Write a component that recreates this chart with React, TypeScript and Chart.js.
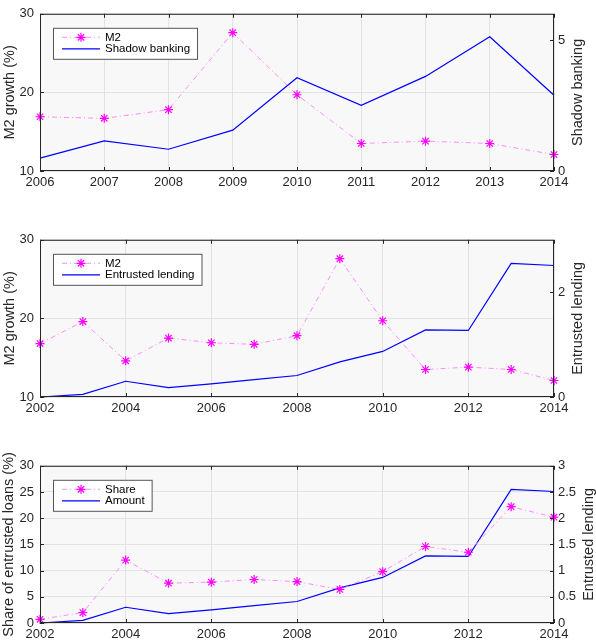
import { useEffect, useRef } from "react"
import { Chart, registerables } from "chart.js"

Chart.register(...registerables)

// data
const yearsLong = [2002, 2003, 2004, 2005, 2006, 2007, 2008, 2009, 2010, 2011, 2012, 2013, 2014]
const yearsShort = [2006, 2007, 2008, 2009, 2010, 2011, 2012, 2013, 2014]

const m2Growth = [16.8, 19.6, 14.6, 17.5, 16.9, 16.7, 17.8, 27.6, 19.7, 13.5, 13.8, 13.5, 12.1] // 2002-2014
const shadowBanking = [0.49, 1.15, 0.83, 1.56, 3.56, 2.51, 3.61, 5.12, 2.89] // 2006-2014
const entrustedLending = [0.0, 0.05, 0.3, 0.18, 0.25, 0.33, 0.41, 0.67, 0.87, 1.28, 1.27, 2.55, 2.51] // 2002-2014
const entrustedShare = [0.7, 2.0, 12.0, 7.6, 7.8, 8.3, 7.9, 6.4, 9.8, 14.6, 13.5, 22.2, 20.2] // 2002-2014

const FONT = "'Liberation Sans', Arial, sans-serif"
const TEXT = "#262626"
const MAGENTA = "#ff00ff"
const BLUE = "#0000ff"

interface AxisSpec {
  min: number
  max: number
  step: number
  title: string
  titleX: number
}

interface PanelProps {
  xs: number[]
  xStep: number
  leftData: number[]
  rightData: number[]
  leftLabel: string
  rightLabel: string
  left: AxisSpec
  right: AxisSpec
  top: number
}

function drawStar(ctx: CanvasRenderingContext2D, x: number, y: number, r: number) {
  ctx.beginPath()
  for (let k = 0; k < 4; k++) {
    const a = (k * Math.PI) / 4
    ctx.moveTo(x - r * Math.cos(a), y - r * Math.sin(a))
    ctx.lineTo(x + r * Math.cos(a), y + r * Math.sin(a))
  }
  ctx.stroke()
}

function Panel({ xs, xStep, leftData, rightData, leftLabel, rightLabel, left, right, top }: PanelProps) {
  const chartRef = useRef<HTMLCanvasElement>(null)
  const chartInstance = useRef<Chart | null>(null)

  useEffect(() => {
    if (!chartRef.current) return
    if (chartInstance.current) chartInstance.current.destroy()
    const ctx = chartRef.current.getContext("2d")
    if (!ctx) return

    const framePlugin = {
      id: "frame",
      beforeDraw(chart: Chart) {
        const { ctx, chartArea: a } = chart
        ctx.save()
        ctx.fillStyle = "#f8f8f8"
        ctx.fillRect(a.left, a.top, a.right - a.left, a.bottom - a.top)
        ctx.restore()
      },
      afterDraw(chart: Chart) {
        const { ctx, chartArea: a } = chart
        ctx.save()
        // box
        ctx.strokeStyle = TEXT
        ctx.lineWidth = 1
        ctx.strokeRect(a.left + 0.5, a.top + 0.5, a.right - a.left - 1, a.bottom - a.top - 1)

        // inward ticks
        const tl = 4
        ctx.beginPath()
        const sx = chart.scales.x
        sx.ticks.forEach((t) => {
          const px = Math.round(sx.getPixelForValue(t.value)) + 0.5
          ctx.moveTo(px, a.bottom)
          ctx.lineTo(px, a.bottom - tl)
          ctx.moveTo(px, a.top)
          ctx.lineTo(px, a.top + tl)
        })
        const sl = chart.scales.yL
        sl.ticks.forEach((t) => {
          const py = Math.round(sl.getPixelForValue(t.value)) + 0.5
          ctx.moveTo(a.left, py)
          ctx.lineTo(a.left + tl, py)
        })
        const sr = chart.scales.yR
        sr.ticks.forEach((t) => {
          const py = Math.round(sr.getPixelForValue(t.value)) + 0.5
          ctx.moveTo(a.right, py)
          ctx.lineTo(a.right - tl, py)
        })
        ctx.stroke()

        // axis titles, both read bottom to top
        ctx.fillStyle = TEXT
        ctx.font = `14.5px ${FONT}`
        ctx.textAlign = "center"
        ctx.textBaseline = "middle"
        const cy = (a.top + a.bottom) / 2
        for (const [tx, text] of [
          [left.titleX, left.title],
          [right.titleX, right.title],
        ] as [number, string][]) {
          ctx.save()
          ctx.translate(tx, cy)
          ctx.rotate(-Math.PI / 2)
          ctx.fillText(text, 0, 0)
          ctx.restore()
        }

        // legend box
        ctx.font = `11.5px ${FONT}`
        const textW = Math.max(ctx.measureText(leftLabel).width, ctx.measureText(rightLabel).width)
        const bx = a.left + 13
        const by = a.top + 14
        const bw = 52 + textW + 7
        const bh = 31
        ctx.fillStyle = "#ffffff"
        ctx.fillRect(bx, by, bw, bh)
        ctx.strokeStyle = "#555555"
        ctx.strokeRect(bx + 0.5, by + 0.5, bw, bh)

        const r1 = by + 9.5
        const r2 = by + 21
        ctx.strokeStyle = "#ff70ff"
        ctx.lineWidth = 0.8
        ctx.setLineDash([5, 3, 1, 3])
        ctx.beginPath()
        ctx.moveTo(bx + 9, r1)
        ctx.lineTo(bx + 47, r1)
        ctx.stroke()
        ctx.setLineDash([])
        ctx.strokeStyle = MAGENTA
        ctx.lineWidth = 1.2
        drawStar(ctx, bx + 28, r1, 4.5)

        ctx.strokeStyle = BLUE
        ctx.lineWidth = 1.2
        ctx.beginPath()
        ctx.moveTo(bx + 9, r2)
        ctx.lineTo(bx + 47, r2)
        ctx.stroke()

        ctx.fillStyle = "#000000"
        ctx.textAlign = "left"
        ctx.fillText(leftLabel, bx + 52, r1 + 0.5)
        ctx.fillText(rightLabel, bx + 52, r2 + 0.5)
        ctx.restore()
      },
    }

    const tickFont = { family: FONT, size: 13 }

    chartInstance.current = new Chart(ctx, {
      type: "line",
      data: {
        datasets: [
          {
            label: leftLabel,
            data: xs.map((x, i) => ({ x, y: leftData[i] })),
            yAxisID: "yL",
            borderColor: "#ff70ff",
            borderWidth: 0.8,
            borderDash: [5, 3, 1, 3],
            pointStyle: "star",
            pointRadius: 4.5,
            pointBorderColor: MAGENTA,
            pointBackgroundColor: MAGENTA,
            pointBorderWidth: 1.2,
            clip: false,
          },
          {
            label: rightLabel,
            data: xs.map((x, i) => ({ x, y: rightData[i] })),
            yAxisID: "yR",
            borderColor: BLUE,
            borderWidth: 1.2,
            pointRadius: 0,
            clip: false,
          },
        ],
      },
      options: {
        responsive: false,
        animation: false,
        layout: { padding: { top: 8, left: 0, right: 0, bottom: 0 } },
        scales: {
          x: {
            type: "linear",
            min: xs[0],
            max: xs[xs.length - 1],
            ticks: { stepSize: xStep, callback: (v) => String(v), font: tickFont, color: TEXT, padding: 4, maxRotation: 0, autoSkip: false },
            grid: { color: "#e2e2e2", drawTicks: false },
            border: { display: false },
            afterFit: (s) => {
              s.height = 17
            },
          },
          yL: {
            type: "linear",
            position: "left",
            min: left.min,
            max: left.max,
            ticks: { stepSize: left.step, includeBounds: false, callback: (v) => String(v), font: tickFont, color: TEXT, padding: 6 },
            grid: { color: "#e2e2e2", drawTicks: false },
            border: { display: false },
            afterFit: (s) => {
              s.width = 40
            },
          },
          yR: {
            type: "linear",
            position: "right",
            min: right.min,
            max: right.max,
            ticks: { stepSize: right.step, includeBounds: false, callback: (v) => String(v), font: tickFont, color: TEXT, padding: 4 },
            grid: { display: false, drawTicks: false },
            border: { display: false },
            afterFit: (s) => {
              s.width = 42
            },
          },
        },
        plugins: {
          legend: { display: false },
          tooltip: { enabled: false },
        },
      },
      plugins: [framePlugin],
    })

    return () => {
      if (chartInstance.current) {
        chartInstance.current.destroy()
        chartInstance.current = null
      }
    }
  }, [xs, xStep, leftData, rightData, leftLabel, rightLabel, left, right])

  return (
    <canvas
      ref={chartRef}
      width={596}
      height={188}
      style={{ position: "absolute", left: 0, top, width: 596, height: 188, display: "block" }}
    />
  )
}

const m2Recent = m2Growth.slice(4)

const axisM2a: AxisSpec = { min: 10, max: 30, step: 10, title: "M2 growth (%)", titleX: 10 }
const axisShadow: AxisSpec = { min: 0, max: 6, step: 5, title: "Shadow banking", titleX: 578 }
const axisM2b: AxisSpec = { min: 10, max: 30, step: 10, title: "M2 growth (%)", titleX: 10 }
const axisEntrusted2: AxisSpec = { min: 0, max: 3, step: 2, title: "Entrusted lending", titleX: 578 }
const axisShare: AxisSpec = { min: 0, max: 30, step: 5, title: "Share of entrusted loans (%)", titleX: 8.5 }
const axisEntrusted3: AxisSpec = { min: 0, max: 3, step: 0.5, title: "Entrusted lending", titleX: 589 }

export default function App() {
  useEffect(() => {
    document.body.style.margin = "0"
  }, [])

  return (
    <div style={{ position: "relative", width: 596, height: 640, overflow: "hidden", background: "#fff" }}>
      <Panel
        xs={yearsShort}
        xStep={1}
        leftData={m2Recent}
        rightData={shadowBanking}
        leftLabel="M2"
        rightLabel="Shadow banking"
        left={axisM2a}
        right={axisShadow}
        top={0}
      />
      <Panel
        xs={yearsLong}
        xStep={2}
        leftData={m2Growth}
        rightData={entrustedLending}
        leftLabel="M2"
        rightLabel="Entrusted lending"
        left={axisM2b}
        right={axisEntrusted2}
        top={226}
      />
      <Panel
        xs={yearsLong}
        xStep={2}
        leftData={entrustedShare}
        rightData={entrustedLending}
        leftLabel="Share"
        rightLabel="Amount"
        left={axisShare}
        right={axisEntrusted3}
        top={452}
      />
    </div>
  )
}
